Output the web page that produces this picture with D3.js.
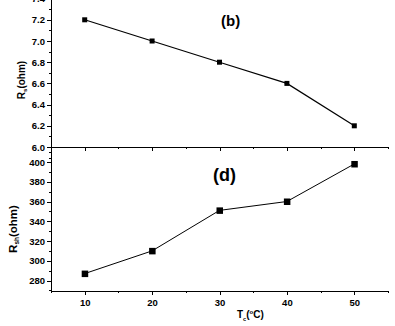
<!DOCTYPE html>
<html>
<head>
<meta charset="utf-8">
<script src="https://cdn.jsdelivr.net/npm/d3@7"></script>
<style>
  body { margin: 0; background: #fff; }
  svg { display: block; font-family: "Liberation Sans", Arial, sans-serif; font-weight: bold; }
  .axis path, .axis line { stroke: #000; stroke-width: 1; shape-rendering: crispEdges; }
  .axis text { fill: #000; font-weight: bold; }
</style>
</head>
<body>
<div id="chart"></div>
<script>
// data
var temps = [10, 20, 30, 40, 50];
var rsValues = [7.2, 7.0, 6.8, 6.6, 6.2];
var rshValues = [287, 310, 351, 360, 398];
var xTicks = [10, 20, 30, 40, 50];
var rsTicks = [6.0, 6.2, 6.4, 6.6, 6.8, 7.0, 7.2, 7.4];
var rshTicks = [280, 300, 320, 340, 360, 380, 400];

var width = 395, height = 326;
var svg = d3.select('#chart').append('svg')
    .attr('width', width)
    .attr('height', height);

var left = 51, right = 388, mid = 147, bottom = 291;

var x = d3.scaleLinear().domain([5, 55]).range([left, right]);
var yTop = d3.scaleLinear().domain([6.0, 7.4]).range([mid, -1.4]);
var yBot = d3.scaleLinear().domain([280, 400]).range([280.5, 162]);

function minorBetween(ticks, step) {
    var out = [];
    for (var i = 0; i < ticks.length; i++) {
        out.push(ticks[i] - step / 2);
    }
    out.push(ticks[ticks.length - 1] + step / 2);
    return out;
}

// ---- top panel (b) ----
var gTop = svg.append('g');

// left axis
gTop.append('line')
    .attr('x1', left + 0.5).attr('x2', left + 0.5).attr('y1', -5).attr('y2', mid)
    .attr('stroke', '#000').attr('shape-rendering', 'crispEdges');
var yAxTop = gTop.append('g').attr('class', 'axis')
    .attr('transform', `translate(${left},0)`)
    .call(d3.axisLeft(yTop).tickValues(rsTicks).tickSize(4).tickSizeOuter(0).tickFormat(d3.format('.1f')));
yAxTop.select('.domain').remove();
yAxTop.selectAll('text').attr('font-size', 9.5).attr('x', -6);
gTop.append('g').attr('class', 'axis')
    .attr('transform', `translate(${left},0)`)
    .call(d3.axisLeft(yTop).tickValues(minorBetween(rsTicks, 0.2)).tickSize(2).tickFormat(''))
    .select('.domain').remove();

// shared x line with ticks pointing down
var xAxTop = gTop.append('g').attr('class', 'axis')
    .attr('transform', `translate(0,${mid})`)
    .call(d3.axisBottom(x).tickValues(xTicks).tickSize(4).tickSizeOuter(0).tickFormat(''));
xAxTop.select('.domain').attr('d', `M${left},0.5H${right}`);
gTop.append('g').attr('class', 'axis')
    .attr('transform', `translate(0,${mid})`)
    .call(d3.axisBottom(x).tickValues(minorBetween(xTicks, 10)).tickSize(2).tickFormat(''))
    .select('.domain').remove();

var lineTop = d3.line().x((d, i) => x(temps[i])).y(d => yTop(d));
gTop.append('path').datum(rsValues)
    .attr('d', lineTop).attr('fill', 'none').attr('stroke', '#000').attr('stroke-width', 1.2);
gTop.selectAll('rect.pt').data(rsValues).enter().append('rect')
    .attr('x', (d, i) => x(temps[i]) - 2.5)
    .attr('y', d => yTop(d) - 2.5)
    .attr('width', 5).attr('height', 5).attr('fill', '#000');

gTop.append('text').attr('x', 221).attr('y', 26).attr('font-size', 15).text('(b)');

var labTop = gTop.append('text')
    .attr('transform', 'translate(25,80) rotate(-90)')
    .attr('text-anchor', 'middle').attr('font-size', 10);
labTop.append('tspan').text('R');
labTop.append('tspan').attr('font-size', 6).attr('dy', 2).text('s');
labTop.append('tspan').attr('dy', -2).text('(ohm)');

// ---- bottom panel (d) ----
var gBot = svg.append('g');

gBot.append('line')
    .attr('x1', left + 0.5).attr('x2', left + 0.5).attr('y1', mid).attr('y2', bottom)
    .attr('stroke', '#000').attr('shape-rendering', 'crispEdges');
var yAxBot = gBot.append('g').attr('class', 'axis')
    .attr('transform', `translate(${left},0)`)
    .call(d3.axisLeft(yBot).tickValues(rshTicks).tickSize(4).tickSizeOuter(0));
yAxBot.select('.domain').remove();
yAxBot.selectAll('text').attr('font-size', 9.5).attr('x', -6);
gBot.append('g').attr('class', 'axis')
    .attr('transform', `translate(${left},0)`)
    .call(d3.axisLeft(yBot).tickValues(minorBetween(rshTicks, 20).filter(v => v > 268)).tickSize(2).tickFormat(''))
    .select('.domain').remove();

var xAxBot = gBot.append('g').attr('class', 'axis')
    .attr('transform', `translate(0,${bottom})`)
    .call(d3.axisBottom(x).tickValues(xTicks).tickSize(4).tickSizeOuter(0));
xAxBot.select('.domain').attr('d', `M${left},0.5H${right + 1}`);
xAxBot.selectAll('text').attr('font-size', 9.5).attr('y', 8);
gBot.append('g').attr('class', 'axis')
    .attr('transform', `translate(0,${bottom})`)
    .call(d3.axisBottom(x).tickValues(minorBetween(xTicks, 10)).tickSize(2).tickFormat(''))
    .select('.domain').remove();

var lineBot = d3.line().x((d, i) => x(temps[i])).y(d => yBot(d));
gBot.append('path').datum(rshValues)
    .attr('d', lineBot).attr('fill', 'none').attr('stroke', '#000').attr('stroke-width', 1);
gBot.selectAll('rect.pt').data(rshValues).enter().append('rect')
    .attr('x', (d, i) => x(temps[i]) - 3)
    .attr('y', d => yBot(d) - 3)
    .attr('width', 6.5).attr('height', 6.5).attr('fill', '#000');

gBot.append('text').attr('x', 213).attr('y', 181).attr('font-size', 18).text('(d)');

var labBot = gBot.append('text')
    .attr('transform', 'translate(16.5,229) rotate(-90)')
    .attr('text-anchor', 'middle').attr('font-size', 11.5);
labBot.append('tspan').text('R');
labBot.append('tspan').attr('font-size', 6.5).attr('dy', 2).text('sh');
labBot.append('tspan').attr('dy', -2).text('(ohm)');

var xt = svg.append('text').attr('x', 237).attr('y', 318).attr('font-size', 10);
xt.append('tspan').text('T');
xt.append('tspan').attr('font-size', 5.5).attr('dy', 3).text('c');
xt.append('tspan').attr('dy', -3).text('(');
xt.append('tspan').attr('font-size', 6).attr('dy', -4).text('o');
xt.append('tspan').attr('dy', 4).text('C)');
</script>
</body>
</html>
